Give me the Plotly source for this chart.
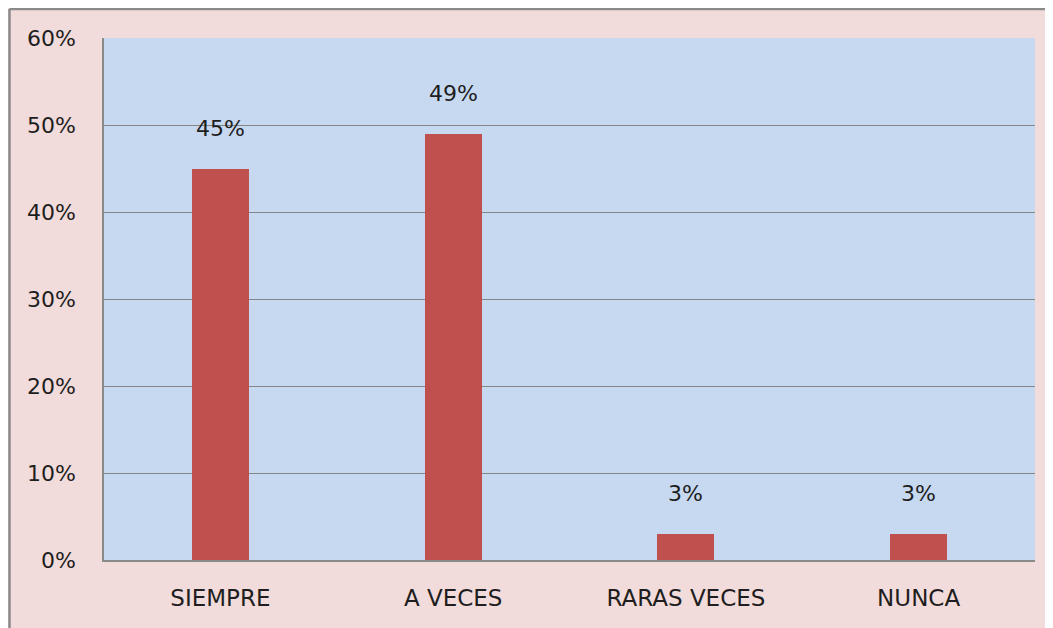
import plotly.graph_objects as go

categorias = ["SIEMPRE", "A VECES", "RARAS VECES", "NUNCA"]
porcentajes = [45, 49, 3, 3]
etiquetas = ["45%", "49%", "3%", "3%"]

FONT = "DejaVu Sans"
TXT = "#1e1e1e"

fig = go.Figure(go.Bar(
    x=categorias, y=porcentajes,
    marker=dict(color="#C0504D", line=dict(width=0)),
    width=0.245, hoverinfo="skip",
))

for cat, val, lab in zip(categorias, porcentajes, etiquetas):
    fig.add_annotation(
        x=cat, y=val, text=lab, showarrow=False,
        yanchor="middle", yshift=40,
        font=dict(family=FONT, size=22, color=TXT),
    )

# borde exterior del gráfico (sólo visible arriba y a la izquierda)
fig.add_shape(type="line", xref="paper", yref="paper",
              x0=-0.1015, x1=1.1, y0=1.0555, y1=1.0555,
              line=dict(color="#8a8a8a", width=2.5))
fig.add_shape(type="line", xref="paper", yref="paper",
              x0=-0.1015, x1=-0.1015, y0=-0.3, y1=1.0555,
              line=dict(color="#8a8a8a", width=2.5))

# la página añade 8px de margen al cuerpo: se compensa aquí
fig.update_layout(
    width=1045, height=620,
    margin=dict(l=96, r=18, t=30, b=68),
    paper_bgcolor="#F2DCDB", plot_bgcolor="#C6D9F1",
    showlegend=False, bargap=0,
    font=dict(family=FONT, size=22, color=TXT),
)
fig.update_yaxes(
    range=[0, 60], dtick=10, ticksuffix="%",
    showgrid=True, gridcolor="#868686", gridwidth=1,
    showline=True, linecolor="#8a8a8a", linewidth=1.5, mirror=False,
    zeroline=False, ticklabelstandoff=22,
    tickfont=dict(family=FONT, size=22, color=TXT),
)
fig.update_xaxes(
    showline=True, linecolor="#8a8a8a", linewidth=1.5,
    ticks="", ticklabelstandoff=17,
    tickfont=dict(family=FONT, size=23, color=TXT),
)

fig.write_html("out.html")
